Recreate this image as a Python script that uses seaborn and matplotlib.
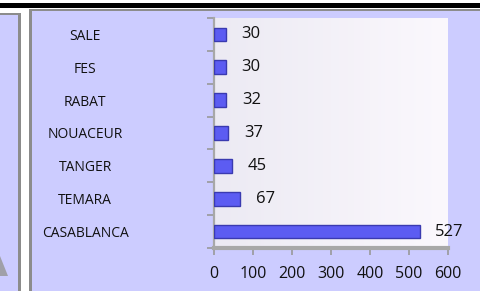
import numpy as np
import pandas as pd
import matplotlib
matplotlib.use("Agg")
import matplotlib.pyplot as plt
import seaborn as sns
from matplotlib.patches import Rectangle, Polygon

# données
villes = ['SALE', 'FES', 'RABAT', 'NOUACEUR', 'TANGER', 'TEMARA', 'CASABLANCA']
effectifs = [30, 30, 32, 37, 45, 67, 527]
graduations = [0, 100, 200, 300, 400, 500, 600]

df = pd.DataFrame({'ville': villes, 'effectif': effectifs})

sns.set_style("white")
plt.rcParams['font.family'] = ['Open Sans', 'DejaVu Sans']

W, H = 480, 291
fig = plt.figure(figsize=(W / 100, H / 100), dpi=100)
fig.patch.set_facecolor('white')

def fx(px):
    return px / W

def fy(py):
    return 1 - py / H

lavande = '#CCCCFF'
gris = '#8C8C8C'

def rect(x0, y0, x1, y1, couleur, z=-2):
    # rectangle en pixels (origine en haut à gauche)
    fig.patches.append(Rectangle((fx(x0), fy(y1)), fx(x1) - fx(x0), fy(y0) - fy(y1),
                                 transform=fig.transFigure, facecolor=couleur,
                                 edgecolor='none', zorder=z))

# panneau gauche (autre graphique coupé)
rect(0, 13, 19, 291, lavande)
rect(18, 13, 20.5, 291, gris, -1)
rect(0, 13, 20.5, 15, gris, -1)
fig.patches.append(Polygon([(fx(0), fy(256)), (fx(8), fy(276)), (fx(0), fy(276))],
                           closed=True, transform=fig.transFigure,
                           facecolor='#A0A0A8', edgecolor='none', zorder=-1))

# panneau principal
rect(30, 9, 480, 291, lavande)
rect(29, 9, 31.5, 291, gris, -1)
rect(29, 9, 480, 11, gris, -1)

# trait noir en haut
rect(0, 3.5, 480, 7.5, 'black', -1)

# zone de tracé
ax = fig.add_axes([fx(214), fy(248), fx(448) - fx(214), fy(18) - fy(248)])
ax.set_zorder(5)
ax.set_facecolor('none')

# fond en dégradé (paroi du graphique 3D)
grad = np.linspace(0, 1, 256).reshape(1, -1)
cmap = matplotlib.colors.LinearSegmentedColormap.from_list('paroi', ['#ECEAF3', '#FBF8FD'])
ax.imshow(grad, extent=[0, 1, 0, 1], transform=ax.transAxes, cmap=cmap,
          aspect='auto', zorder=0)

sns.barplot(data=df, y='ville', x='effectif', orient='h', order=villes,
            color='#5C5CF2', edgecolor='#3A3AB0', linewidth=1.0,
            width=0.42, saturation=1, ax=ax, zorder=3)

ax.set_xlim(0, 600)
ax.set_xticks(graduations)
ax.set_xticklabels([str(g) for g in graduations], fontsize=11.5, color='#111111')
ax.set_ylim(len(villes) - 0.5, -0.5)
ax.set_xlabel('')
ax.set_ylabel('')

for lab in ax.get_yticklabels():
    lab.set_horizontalalignment('center')
    lab.set_fontsize(10)
    lab.set_color('#111111')
ax.tick_params(axis='y', length=0, pad=129 / 1.389)
ax.set_yticks(np.arange(-0.5, len(villes), 1.0), minor=True)
ax.tick_params(axis='y', which='minor', length=5, color='#999999', width=1.2, left=True)
ax.tick_params(axis='x', length=5, color='#999999', width=1.2, bottom=True,
               direction='out', pad=8)

for s in ['top', 'right']:
    ax.spines[s].set_visible(False)
ax.spines['left'].set_color('#A8A8A8')
ax.spines['left'].set_linewidth(1.6)
ax.spines['bottom'].set_color('#A8A8A8')
ax.spines['bottom'].set_linewidth(3)

for i, v in enumerate(effectifs):
    ax.text(v + 40, i, str(v), va='center', ha='left', fontsize=12,
            color='#111111', zorder=4)

fig.savefig('out.png', dpi=100)
